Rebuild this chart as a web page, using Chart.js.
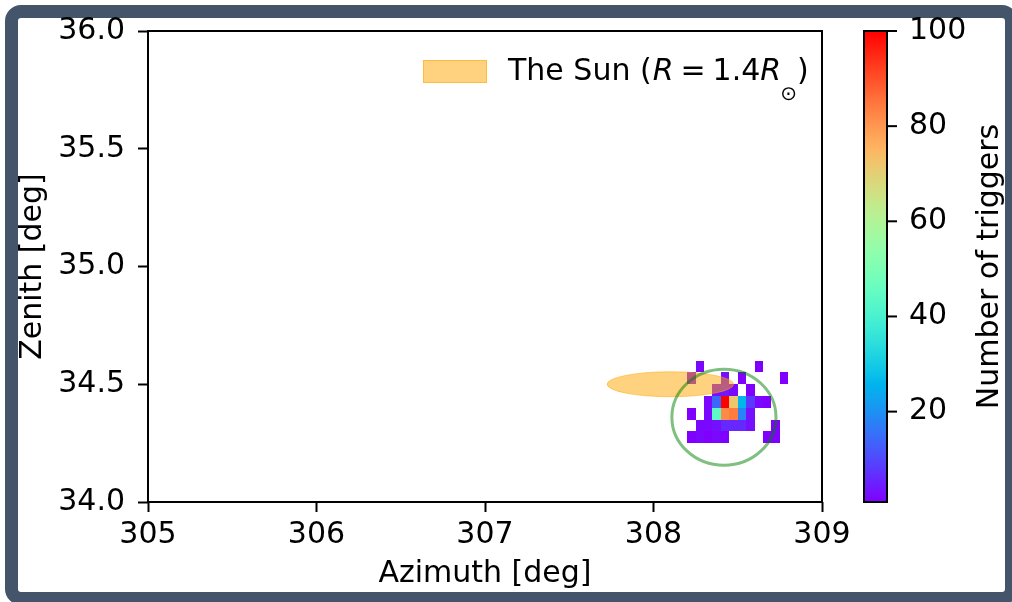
<!DOCTYPE html>
<html>
<head>
<meta charset="utf-8">
<script src="https://cdn.jsdelivr.net/npm/chart.js@4.4.1/dist/chart.umd.min.js"></script>
<style>
  html, body { margin: 0; padding: 0; background: #ffffff; width: 1012px; height: 602px; overflow: hidden; }
  #frame { position: absolute; left: 5px; top: 5px; width: 987px; height: 574px;
           border: 13px solid #44546a; border-radius: 16px; }
  #wrap { position: absolute; left: 0; top: 0; width: 1012px; height: 602px; }
</style>
</head>
<body>
<div id="frame"></div>
<div id="wrap"><canvas id="skymap" width="1012" height="602"></canvas></div>
<script>
// Histogram bin edges (degrees)
const azimuthEdges = [308.20, 308.25, 308.30, 308.35, 308.40, 308.45, 308.50,
                      308.55, 308.60, 308.65, 308.70, 308.75, 308.80];
const zenithEdges = [34.60, 34.55, 34.50, 34.45, 34.40, 34.35, 34.30, 34.25];

// Trigger counts per bin: one row per zenith band (top to bottom), one column per azimuth bin
const triggerCounts = [
  [0, 2, 0, 0,   0,  0,  0, 0, 1, 0, 0, 0],
  [2, 0, 0, 0,   3,  0,  1, 0, 0, 0, 0, 1],
  [0, 0, 0, 3,   4,  2,  0, 1, 0, 0, 0, 0],
  [0, 0, 2, 14, 100, 72, 26, 8, 2, 1, 0, 0],
  [1, 0, 2, 44,  82, 84, 18, 3, 0, 0, 0, 0],
  [0, 2, 2, 3,   6,  6,  6, 3, 0, 0, 1, 0],
  [1, 2, 1, 2,   1,  0,  0, 0, 0, 1, 1, 0]
];

// Axis ticks
const azimuthTicks = [305, 306, 307, 308, 309];
const zenithTicks = [34.0, 34.5, 35.0, 35.5, 36.0];
const countTicks = [20, 40, 60, 80, 100];
const countRange = [1, 100];

// The Sun disc (R = 1.4 R_sun) and the reconstruction circle, in degrees
const sunCenter = [308.10, 34.50];
const sunRadii = [0.375, 0.053];
const ringCenter = [308.418, 34.36];
const ringRadii = [0.309, 0.204];

const FONT = '"DejaVu Sans", sans-serif';
const FONT_SIZE = 30;

// matplotlib "rainbow" colormap
function rainbow(t) {
  t = Math.min(1, Math.max(0, t));
  const r = Math.min(1, Math.abs(2 * t - 0.5));
  const g = Math.max(0, Math.sin(Math.PI * t));
  const b = Math.max(0, Math.cos(Math.PI * t / 2));
  return `rgb(${Math.round(r * 255)},${Math.round(g * 255)},${Math.round(b * 255)})`;
}

const skyMapLayer = {
  id: 'skyMapLayer',
  afterDatasetsDraw(chart) {
    const { ctx, chartArea: a, scales } = chart;
    const x = scales.x, y = scales.y, c = scales.c;

    ctx.save();
    ctx.beginPath();
    ctx.rect(a.left, a.top, a.right - a.left, a.bottom - a.top);
    ctx.clip();

    // 2D histogram of triggers
    triggerCounts.forEach((row, r) => row.forEach((v, k) => {
      if (!v) return;
      const x0 = Math.round(x.getPixelForValue(azimuthEdges[k]));
      const x1 = Math.round(x.getPixelForValue(azimuthEdges[k + 1]));
      const y0 = Math.round(y.getPixelForValue(zenithEdges[r]));
      const y1 = Math.round(y.getPixelForValue(zenithEdges[r + 1]));
      ctx.fillStyle = rainbow((v - countRange[0]) / (countRange[1] - countRange[0]));
      ctx.fillRect(x0, y0, x1 - x0, y1 - y0);
    }));

    // Sun disc
    const sx = x.getPixelForValue(sunCenter[0]);
    const sy = y.getPixelForValue(sunCenter[1]);
    const srx = x.getPixelForValue(sunCenter[0] + sunRadii[0]) - sx;
    const sry = sy - y.getPixelForValue(sunCenter[1] + sunRadii[1]);
    ctx.beginPath();
    ctx.ellipse(sx, sy, srx, sry, 0, 0, Math.PI * 2);
    ctx.fillStyle = 'rgba(255,165,0,0.5)';
    ctx.fill();
    ctx.strokeStyle = 'rgba(255,165,0,0.5)';
    ctx.lineWidth = 1;
    ctx.stroke();

    // Reconstruction circle
    const cx = x.getPixelForValue(ringCenter[0]);
    const cy = y.getPixelForValue(ringCenter[1]);
    const crx = x.getPixelForValue(ringCenter[0] + ringRadii[0]) - cx;
    const cry = cy - y.getPixelForValue(ringCenter[1] + ringRadii[1]);
    ctx.beginPath();
    ctx.ellipse(cx, cy, crx, cry, 0, 0, Math.PI * 2);
    ctx.strokeStyle = 'rgba(0,128,0,0.5)';
    ctx.lineWidth = 3;
    ctx.stroke();
    ctx.restore();

    // Axes frame
    ctx.save();
    ctx.strokeStyle = '#000';
    ctx.lineWidth = 2;
    ctx.strokeRect(a.left, a.top, a.right - a.left, a.bottom - a.top);

    // Legend
    const px = a.left + 275, py = a.top + 29;
    ctx.fillStyle = 'rgba(255,165,0,0.5)';
    ctx.fillRect(px, py, 64, 23);
    ctx.strokeStyle = 'rgba(255,165,0,0.5)';
    ctx.lineWidth = 1;
    ctx.strokeRect(px + 0.5, py + 0.5, 63, 22);

    ctx.fillStyle = '#000';
    ctx.textBaseline = 'alphabetic';
    ctx.textAlign = 'left';
    const base = py + 20;
    let tx = px + 85;
    const upright = `${FONT_SIZE}px ${FONT}`;
    const slanted = `oblique ${FONT_SIZE}px ${FONT}`;
    const put = (txt, font, dx, dy) => {
      ctx.font = font;
      ctx.fillText(txt, tx, base + (dy || 0));
      tx += ctx.measureText(txt).width + (dx || 0);
    };
    put('The Sun (', upright, 1);
    put('R', slanted, 7);
    put('=', upright, 7);
    put('1.4', upright, 0);
    put('R', slanted, -1);
    put('\u2299', `20px ${FONT}`, 0, 20);
    put(')', upright, 0);

    // Colour bar
    const bl = a.right + 42, bw = 23;
    const top = c.getPixelForValue(countRange[1]);
    const bot = c.getPixelForValue(countRange[0]);
    const grad = ctx.createLinearGradient(0, bot, 0, top);
    for (let i = 0; i <= 40; i++) grad.addColorStop(i / 40, rainbow(i / 40));
    ctx.fillStyle = grad;
    ctx.fillRect(bl, top, bw, bot - top);
    ctx.strokeStyle = '#000';
    ctx.lineWidth = 2;
    ctx.strokeRect(bl, top, bw, bot - top);

    ctx.font = `${FONT_SIZE}px ${FONT}`;
    ctx.fillStyle = '#000';
    ctx.textBaseline = 'middle';
    ctx.textAlign = 'left';
    countTicks.forEach(v => {
      const ty = c.getPixelForValue(v);
      ctx.beginPath();
      ctx.moveTo(bl + bw, ty);
      ctx.lineTo(bl + bw + 10, ty);
      ctx.stroke();
      ctx.fillText(String(v), bl + bw + 22, ty);
    });

    ctx.translate(a.right + 168, (top + bot) / 2);
    ctx.rotate(-Math.PI / 2);
    ctx.textAlign = 'center';
    ctx.fillText('Number of triggers', 0, 0);
    ctx.restore();
  }
};

const tickFont = { family: FONT, size: FONT_SIZE };

new Chart(document.getElementById('skymap'), {
  type: 'scatter',
  data: { datasets: [{ data: [], showLine: false }] },
  options: {
    responsive: false,
    devicePixelRatio: 1,
    animation: false,
    layout: { padding: { left: 0, top: 31, right: 190, bottom: 0 } },
    plugins: { legend: { display: false }, tooltip: { enabled: false } },
    scales: {
      x: {
        type: 'linear', position: 'bottom',
        min: azimuthTicks[0], max: azimuthTicks[azimuthTicks.length - 1],
        afterBuildTicks: s => { s.ticks = azimuthTicks.map(v => ({ value: v })); },
        afterFit: s => { s.height = 100; },
        border: { display: false },
        grid: { display: true, drawOnChartArea: false, drawTicks: true,
                tickLength: 10, tickWidth: 2, tickColor: '#000' },
        ticks: { color: '#000', font: tickFont, padding: 5, maxRotation: 0,
                 callback: v => String(v) },
        title: { display: true, text: 'Azimuth [deg]', color: '#000',
                 font: tickFont, padding: { top: 0, bottom: 10 } }
      },
      y: {
        type: 'linear', position: 'left',
        min: zenithTicks[0], max: zenithTicks[zenithTicks.length - 1],
        afterBuildTicks: s => { s.ticks = zenithTicks.map(v => ({ value: v })); },
        afterFit: s => { s.width = 148; },
        border: { display: false },
        grid: { display: true, drawOnChartArea: false, drawTicks: true,
                tickLength: 10, tickWidth: 2, tickColor: '#000' },
        ticks: { color: '#000', font: tickFont, padding: 13,
                 callback: v => Number(v).toFixed(1) },
        title: { display: true, text: 'Zenith [deg]', color: '#000',
                 font: tickFont, padding: { top: 15, bottom: 0 } }
      },
      c: {
        axis: 'y', type: 'linear', position: 'right', display: false,
        min: countRange[0], max: countRange[1]
      }
    }
  },
  plugins: [skyMapLayer]
});
</script>
</body>
</html>
